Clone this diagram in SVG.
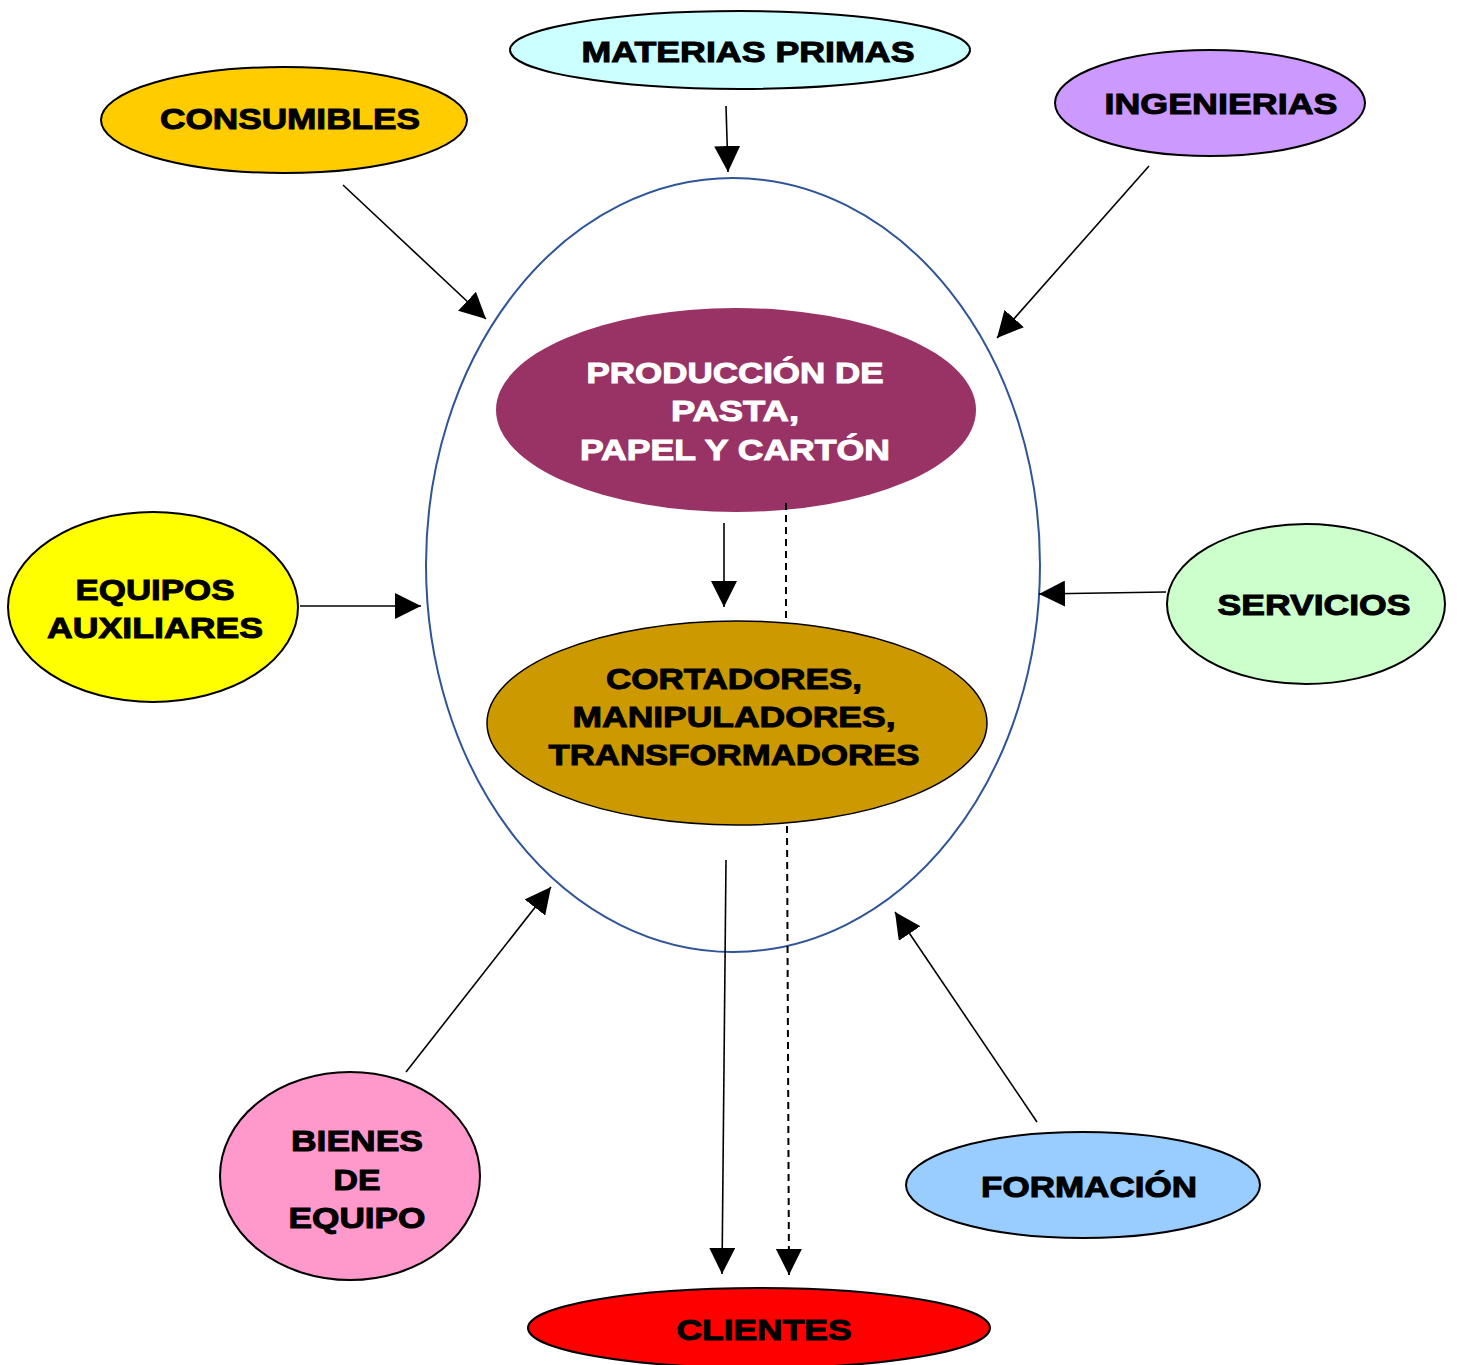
<svg xmlns="http://www.w3.org/2000/svg" width="1457" height="1365" viewBox="0 0 1457 1365">
<style>
.n{stroke:#000;stroke-width:2}
.t{font-family:"Liberation Sans",Arial,sans-serif;font-weight:bold;font-size:30px;fill:#000;stroke:#000;stroke-width:1;text-anchor:middle}
.w{fill:#fff;stroke:#fff}
.c{fill:none;stroke:#000;stroke-width:1.6}
.d{fill:none;stroke:#000;stroke-width:2;stroke-dasharray:7,5}
</style>
<defs>
<marker id="ah" markerUnits="userSpaceOnUse" markerWidth="26" markerHeight="26" refX="26" refY="13" orient="auto">
<path d="M0,0 L26,13 L0,26 z" fill="#000"/>
</marker>
</defs>
<rect width="1457" height="1365" fill="#fff"/>
<g id="sistema">
<ellipse cx="733" cy="565" rx="307" ry="387" fill="none" stroke="#2F5597" stroke-width="2"/>
</g>
<g id="materias">
<ellipse class="n" cx="740" cy="50" rx="230" ry="39" fill="#CCFFFF"/>
<text class="t" x="748" y="62" textLength="333" lengthAdjust="spacingAndGlyphs">MATERIAS PRIMAS</text>
</g>
<g id="consumibles">
<ellipse class="n" cx="284" cy="120" rx="183" ry="53" fill="#FFCC00"/>
<text class="t" x="290" y="129" textLength="260" lengthAdjust="spacingAndGlyphs">CONSUMIBLES</text>
</g>
<g id="ingenierias">
<ellipse class="n" cx="1210" cy="103" rx="155" ry="53" fill="#CC99FF"/>
<text class="t" x="1221" y="114" textLength="233" lengthAdjust="spacingAndGlyphs">INGENIERIAS</text>
</g>
<g id="produccion">
<ellipse cx="736" cy="410" rx="240" ry="102" fill="#993366"/>
<text class="t w" x="735" y="383" textLength="297" lengthAdjust="spacingAndGlyphs">PRODUCCIÓN DE</text>
<text class="t w" x="735" y="421" textLength="128" lengthAdjust="spacingAndGlyphs">PASTA,</text>
<text class="t w" x="735" y="460" textLength="310" lengthAdjust="spacingAndGlyphs">PAPEL Y CARTÓN</text>
</g>
<g id="equipos">
<ellipse class="n" cx="153" cy="607" rx="145" ry="95" fill="#FFFF00"/>
<text class="t" x="155" y="600" textLength="159" lengthAdjust="spacingAndGlyphs">EQUIPOS</text>
<text class="t" x="155" y="638" textLength="216" lengthAdjust="spacingAndGlyphs">AUXILIARES</text>
</g>
<g id="servicios">
<ellipse class="n" cx="1306" cy="604" rx="139" ry="80" fill="#CCFFCC"/>
<text class="t" x="1314" y="615" textLength="193" lengthAdjust="spacingAndGlyphs">SERVICIOS</text>
</g>
<g id="cortadores">
<ellipse cx="737" cy="723" rx="250" ry="102" fill="#CC9900" stroke="#000" stroke-width="1.5"/>
<text class="t" x="734" y="689" textLength="256" lengthAdjust="spacingAndGlyphs">CORTADORES,</text>
<text class="t" x="734" y="727" textLength="323" lengthAdjust="spacingAndGlyphs">MANIPULADORES,</text>
<text class="t" x="734" y="765" textLength="371" lengthAdjust="spacingAndGlyphs">TRANSFORMADORES</text>
</g>
<g id="bienes">
<ellipse class="n" cx="350" cy="1176" rx="130" ry="104" fill="#FF99CC"/>
<text class="t" x="357" y="1151" textLength="132" lengthAdjust="spacingAndGlyphs">BIENES</text>
<text class="t" x="357" y="1190" textLength="47" lengthAdjust="spacingAndGlyphs">DE</text>
<text class="t" x="357" y="1228" textLength="137" lengthAdjust="spacingAndGlyphs">EQUIPO</text>
</g>
<g id="formacion">
<ellipse class="n" cx="1083" cy="1185" rx="177" ry="53" fill="#99CCFF"/>
<text class="t" x="1089" y="1197" textLength="216" lengthAdjust="spacingAndGlyphs">FORMACIÓN</text>
</g>
<g id="clientes">
<ellipse class="n" cx="759" cy="1328" rx="231" ry="40" fill="#FF0000"/>
<text class="t" x="764" y="1340" textLength="175" lengthAdjust="spacingAndGlyphs">CLIENTES</text>
</g>
<g id="connectors">
<path class="c" d="M726,106 L728,172" marker-end="url(#ah)"/>
<path class="c" d="M343,185 L486,319" marker-end="url(#ah)"/>
<path class="c" d="M1149,166 L997,338" marker-end="url(#ah)"/>
<path class="c" d="M300,606 L421,606" marker-end="url(#ah)"/>
<path class="c" d="M1166,592 L1039,594" marker-end="url(#ah)"/>
<path class="c" d="M724,523 L724,607" marker-end="url(#ah)"/>
<path class="d" d="M786,503 L786,621"/>
<path class="d" d="M787,826 L789,1275" marker-end="url(#ah)"/>
<path class="c" d="M726,860 L722,1274" marker-end="url(#ah)"/>
<path class="c" d="M406,1072 L551,887" marker-end="url(#ah)"/>
<path class="c" d="M1037,1122 L895,912" marker-end="url(#ah)"/>
</g>
</svg>
